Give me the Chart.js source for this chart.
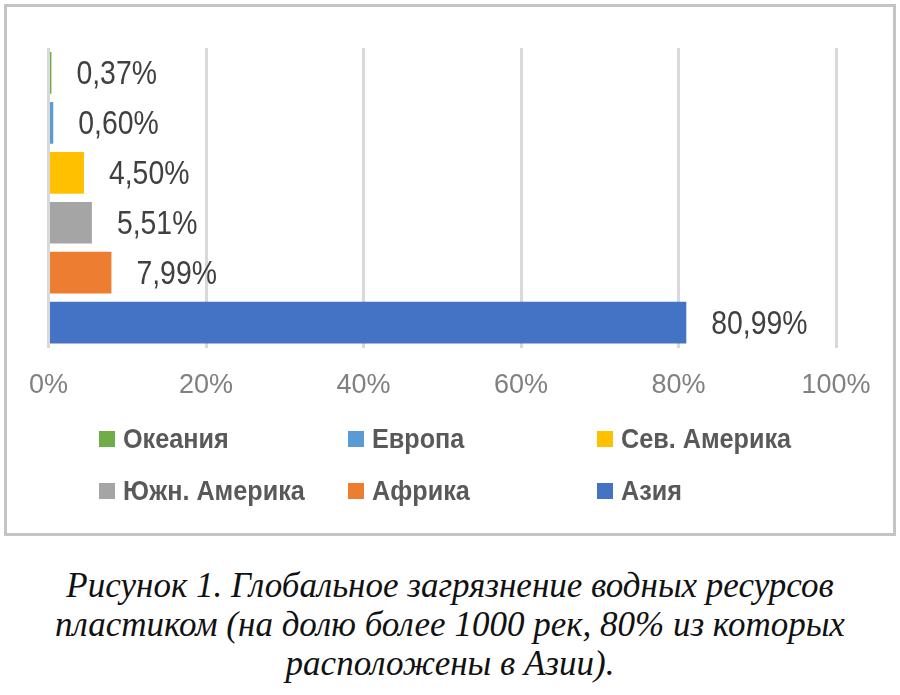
<!DOCTYPE html>
<html>
<head>
<meta charset="utf-8">
<script src="https://cdn.jsdelivr.net/npm/chart.js@4.4.1/dist/chart.umd.min.js"></script>
<style>
  html, body { margin: 0; padding: 0; background: #fff; }
  body { width: 900px; height: 695px; position: relative; overflow: hidden; }
  #frame {
    position: absolute; left: 4px; top: 4px; width: 886px; height: 526px;
    border: 3px solid #c4c4c4; background: #fff;
  }
  #chart-box { position: absolute; left: 0; top: 0; width: 886px; height: 425px; }
  #legend {
    position: absolute; left: 92px; top: 406px;
    display: grid; grid-template-columns: 249px 249px 249px; grid-auto-rows: 52px;
    font-family: "Liberation Sans", Arial, sans-serif;
    font-weight: bold; font-size: 28px; color: #595959;
  }
  .legend-item { display: flex; align-items: center; white-space: nowrap; }
  .legend-box { width: 16px; height: 16px; margin-right: 8px; flex: none; }
  .legend-text { display: inline-block; transform: scaleX(0.9); transform-origin: left center; }
  #caption {
    position: absolute; left: 0; top: 566px; width: 900px; text-align: center;
    font-family: "Liberation Serif", "Times New Roman", serif; font-style: italic;
    font-size: 35px; line-height: 39px; color: #111;
  }
</style>
</head>
<body>
<div id="frame">
  <div id="chart-box"><canvas id="plasticChart"></canvas></div>
  <div id="legend"></div>
</div>
<div id="caption">Рисунок 1. Глобальное загрязнение водных ресурсов<br>пластиком (на долю более 1000 рек, 80% из которых<br>расположены в Азии).</div>

<script>
// Share of river plastic by region, %
const regions = ['Океания', 'Европа', 'Сев. Америка', 'Южн. Америка', 'Африка', 'Азия'];
const shares = [0.37, 0.60, 4.50, 5.51, 7.99, 80.99];
const regionColors = ['#70ad47', '#5b9bd5', '#ffc000', '#a5a5a5', '#ed7d31', '#4472c4'];
const xTicks = [0, 20, 40, 60, 80, 100];

const sansFont = '"Liberation Sans", Arial, sans-serif';

// Value labels to the right of each bar (text squeezed a little, like the original)
const barValueLabels = {
  id: 'barValueLabels',
  afterDatasetsDraw(chart) {
    const ctx = chart.ctx;
    const meta = chart.getDatasetMeta(0);
    meta.data.forEach((bar, i) => {
      const text = shares[i].toFixed(2).replace('.', ',') + '%';
      ctx.save();
      ctx.translate(bar.x + 25, bar.y + 2);
      ctx.scale(0.86, 1);
      ctx.font = '33px ' + sansFont;
      ctx.fillStyle = '#404040';
      ctx.textAlign = 'left';
      ctx.textBaseline = 'middle';
      ctx.fillText(text, 0, 0);
      ctx.restore();
    });
  }
};

document.addEventListener('DOMContentLoaded', () => {
  const ctx = document.getElementById('plasticChart').getContext('2d');
  new Chart(ctx, {
    type: 'bar',
    data: {
      labels: regions,
      datasets: [{
        data: shares,
        backgroundColor: regionColors,
        borderWidth: 0,
        categoryPercentage: 1,
        barPercentage: 0.835
      }]
    },
    options: {
      indexAxis: 'y',
      responsive: true,
      maintainAspectRatio: false,
      animation: false,
      layout: { padding: { left: 41, right: 57, top: 41, bottom: 8 } },
      plugins: {
        legend: { display: false },
        tooltip: { enabled: false }
      },
      scales: {
        x: {
          min: 0,
          max: 100,
          afterBuildTicks(axis) {
            axis.ticks = xTicks.map(v => ({ value: v }));
          },
          ticks: {
            padding: 22,
            color: '#808080',
            font: { family: sansFont, size: 27 },
            callback: v => v + '%'
          },
          grid: { color: '#d9d9d9', lineWidth: 3, drawTicks: false },
          border: { display: false }
        },
        y: {
          display: false
        }
      }
    },
    plugins: [barValueLabels]
  });

  // Legend in three fixed columns
  const legend = document.getElementById('legend');
  regions.forEach((name, i) => {
    const item = document.createElement('div');
    item.className = 'legend-item';
    item.innerHTML = `<span class="legend-box" style="background:${regionColors[i]}"></span><span class="legend-text">${name}</span>`;
    legend.appendChild(item);
  });
});
</script>
</body>
</html>
